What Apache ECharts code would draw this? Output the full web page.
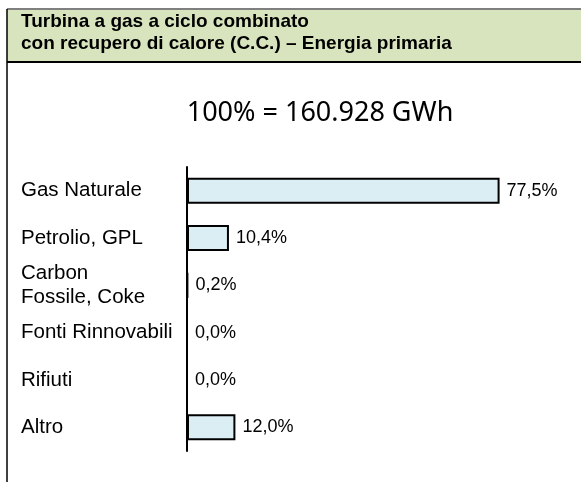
<!DOCTYPE html>
<html>
<head>
<meta charset="utf-8">
<script src="https://cdn.jsdelivr.net/npm/echarts@6/dist/echarts.min.js"></script>
<style>
html,body{margin:0;padding:0;background:#fff;}
#c{width:581px;height:482px;}
</style>
</head>
<body>
<div id="c"></div>
<script>
const headerLines = ['Turbina a gas a ciclo combinato', 'con recupero di calore (C.C.) – Energia primaria'];
const subtitle = '100% = 160.928 GWh';
const categories = ['Gas Naturale', 'Petrolio, GPL', 'Carbon\nFossile, Coke', 'Fonti Rinnovabili', 'Rifiuti', 'Altro'];
const shares = [77.5, 10.4, 0.2, 0.0, 0.0, 12.0];

const chart = echarts.init(document.getElementById('c'), null, {renderer: 'canvas'});
const fmt = v => v.toFixed(1).replace('.', ',') + '%';

chart.setOption({
  animation: false,
  backgroundColor: '#ffffff',
  grid: {left: 187, top: 167, width: 363, height: 284, containLabel: false},
  xAxis: {type: 'value', min: 0, max: 90, show: false},
  yAxis: {
    type: 'category', data: categories, inverse: true,
    axisLine: {show: true, lineStyle: {color: '#000', width: 2}},
    axisTick: {show: false},
    axisLabel: {align: 'left', margin: 166, color: '#000', fontFamily: 'Liberation Sans, Arial, sans-serif', fontSize: 20.5, lineHeight: 24},
    splitLine: {show: false}
  },
  series: [{
    type: 'bar', data: shares, barWidth: 26,
    itemStyle: {color: '#dbeef4', borderColor: '#000', borderWidth: 2},
    label: {show: true, position: 'right', distance: 7, color: '#000', fontFamily: 'Liberation Sans, Arial, sans-serif', fontSize: 18,
      formatter: p => fmt(p.value)}
  }],
  graphic: [
    {type: 'rect', shape: {x: 7, y: 9, width: 580, height: 53}, style: {fill: '#d7e4bd', stroke: null}, z: 0},
    {type: 'line', shape: {x1: 7, y1: 9, x2: 581, y2: 9}, style: {stroke: '#7f7f7f', lineWidth: 2}},
    {type: 'line', shape: {x1: 7, y1: 62, x2: 581, y2: 62}, style: {stroke: '#000', lineWidth: 2}},
    {type: 'line', shape: {x1: 7, y1: 9, x2: 7, y2: 482}, style: {stroke: '#000', lineWidth: 1.5}},
    {type: 'text', x: 21, y: 11, style: {text: headerLines.join('\n'), fill: '#000', font: 'bold 19px "Liberation Sans", Arial, sans-serif', lineHeight: 22}},
    {type: 'text', x: 320, y: 113, style: {text: subtitle, fill: '#000', font: '27px "Noto Sans", sans-serif', textAlign: 'center', textVerticalAlign: 'middle'}}
  ]
});
</script>
</body>
</html>
